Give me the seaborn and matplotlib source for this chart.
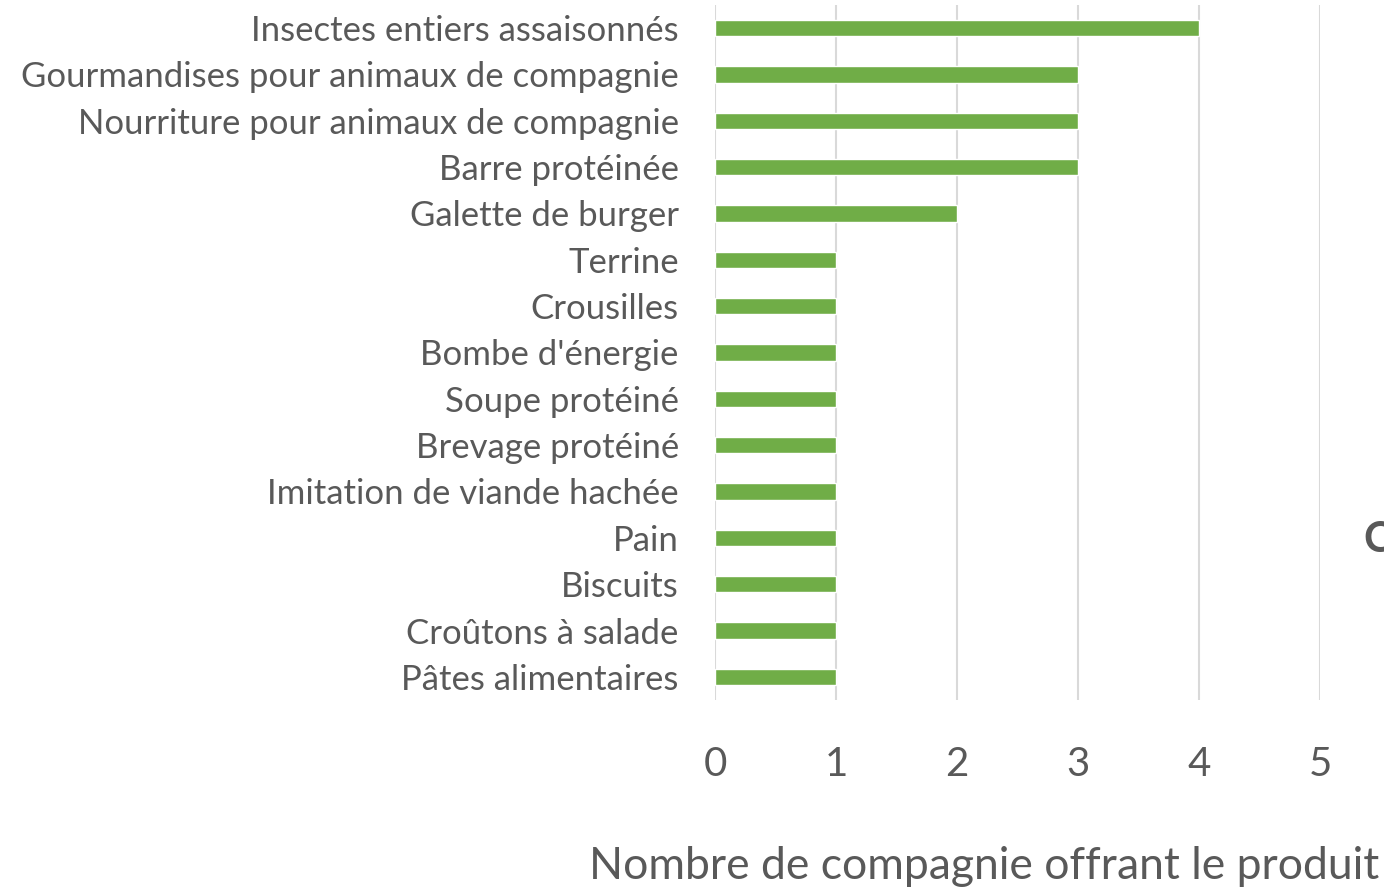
import matplotlib
matplotlib.use("Agg")
import matplotlib.pyplot as plt
import seaborn as sns
import pandas as pd

sns.set_theme(style="whitegrid")
plt.rcParams['font.family'] = ['Lato', 'DejaVu Sans']

# data
produits = [
    "Insectes entiers assaisonnés",
    "Gourmandises pour animaux de compagnie",
    "Nourriture pour animaux de compagnie",
    "Barre protéinée",
    "Galette de burger",
    "Terrine",
    "Crousilles",
    "Bombe d'énergie",
    "Soupe protéiné",
    "Brevage protéiné",
    "Imitation de viande hachée",
    "Pain",
    "Biscuits",
    "Croûtons à salade",
    "Pâtes alimentaires",
]
nb_compagnies = [4, 3, 3, 3, 2, 1, 1, 1, 1, 1, 1, 1, 1, 1, 1]
x_ticks = [0, 1, 2, 3, 4, 5]

df = pd.DataFrame({"produit": produits, "nombre": nb_compagnies})

text_col = "#595959"
grid_col = "#D9D9D9"
bar_col = "#70AD47"

fig = plt.figure(figsize=(13.84, 8.88), dpi=100)
ax = fig.add_axes([0.5166, 0.2117, 0.4372, 0.7827])

sns.barplot(data=df, x="nombre", y="produit", color=bar_col, width=0.35,
            saturation=1, ax=ax, orient="h")

ax.set_xlim(0, 5)
ax.set_ylim(14.5, -0.5)
ax.set_xticks(x_ticks)
ax.set_xticklabels([str(t) for t in x_ticks], fontsize=29, color=text_col)
ax.tick_params(axis="x", length=0, pad=33)
ax.tick_params(axis="y", length=0, pad=26, labelsize=25, labelcolor=text_col)
for lbl in ax.get_yticklabels():
    lbl.set_va("center_baseline")
ax.grid(axis="x", color=grid_col, linewidth=1.5)
ax.grid(axis="y", visible=False)
for s in ax.spines.values():
    s.set_visible(False)

ax.set_ylabel("")
ax.set_xlabel("Nombre de compagnie offrant le produit", fontsize=32, color=text_col)
ax.xaxis.set_label_coords(0.445, -0.21)

# cut-off title at the right edge
fig.text(0.985, 0.392, "C", fontsize=30, fontweight="bold", color=text_col,
         va="center", ha="left")

fig.savefig("out.png", dpi=100)
